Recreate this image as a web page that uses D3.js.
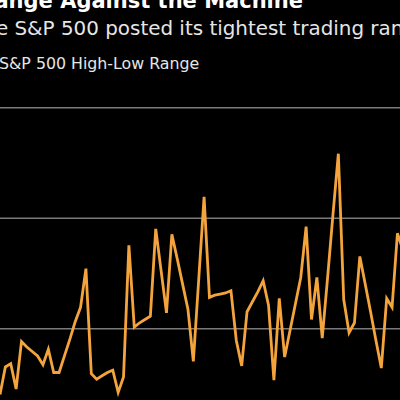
<!DOCTYPE html>
<html>
<head>
<meta charset="utf-8">
<script src="https://cdn.jsdelivr.net/npm/d3@7"></script>
<style>
  html, body { margin: 0; padding: 0; background: #000; overflow: hidden; }
  svg { display: block; }
</style>
</head>
<body>
<svg id="chart" width="400" height="400"></svg>
<script>
// ---- data ----
const titleText = "Range Against the Machine";
const subtitleText = "The S&P 500 posted its tightest trading range";
const legendLabel = "S&P 500 High-Low Range";
const gridValues = [1, 2, 3];
const rangeValues = [
  0.40, 0.65, 0.68, 0.45, 0.88, 0.83, 0.79, 0.75, 0.67, 0.81,
  0.60, 0.60, 0.75, 0.90, 1.06, 1.19, 1.54, 0.59, 0.54, 0.57,
  0.60, 0.62, 0.42, 0.56, 1.75, 1.01, 1.05, 1.08, 1.11, 1.90,
  1.52, 1.14, 1.85, 1.63, 1.40, 1.17, 0.70, 1.44, 2.19, 1.28,
  1.30, 1.31, 1.32, 1.34, 0.89, 0.66, 1.15, 1.24, 1.33, 1.43,
  1.21, 0.53, 1.27, 0.74, 0.98, 1.22, 1.46, 1.92, 1.08, 1.46,
  0.91, 1.46, 2.03, 2.58, 1.26, 0.96, 1.05, 1.65, 1.40, 1.15,
  0.89, 0.64, 1.27, 1.19, 1.86, 1.71
];

// ---- layout ----
const svg = d3.select("#chart");
svg.append("rect").attr("width", 400).attr("height", 400).attr("fill", "#000");

const x = d3.scaleLinear().domain([0, rangeValues.length - 1]).range([0, 402.8]);
const y = d3.scaleLinear().domain([0, 3]).range([438.8, 107.3]);

// gridlines via axis
const gridAxis = d3.axisRight(y).tickValues(gridValues).tickSize(400).tickFormat("");
const g = svg.append("g").call(gridAxis);
g.select(".domain").remove();
g.selectAll(".tick line").attr("stroke", "#7a7a7a").attr("stroke-width", 1.5);

// line
const line = d3.line().x((d, i) => x(i)).y(d => y(d));
svg.append("path")
  .datum(rangeValues)
  .attr("fill", "none")
  .attr("stroke", "#f4a43c")
  .attr("stroke-width", 2.8)
  .attr("stroke-linejoin", "miter")
  .attr("d", line);

// title
const title = svg.append("text")
  .attr("y", 7.5)
  .attr("fill", "#ffffff")
  .attr("font-family", "DejaVu Sans")
  .attr("font-weight", "bold")
  .attr("font-size", 21)
  .text(titleText);
const tw = title.node().getComputedTextLength();
title.attr("x", 303 - tw);

// subtitle: "S" of S&P starts around x=15
const subSize = 19.9;
const sub = svg.append("text")
  .attr("y", 35)
  .attr("fill", "#e6e6e6")
  .attr("font-family", "DejaVu Sans")
  .attr("font-size", subSize)
  .text(subtitleText);
const tmp = svg.append("text")
  .attr("font-family", "DejaVu Sans")
  .attr("font-size", subSize)
  .text("The\u00a0");
const prefixW = tmp.node().getComputedTextLength();
tmp.remove();
sub.attr("x", 14.5 - prefixW);

// legend label
svg.append("text")
  .attr("x", -1)
  .attr("y", 69)
  .attr("fill", "#e6e6e6")
  .attr("font-family", "DejaVu Sans")
  .attr("font-size", 15.8)
  .text(legendLabel);
</script>
</body>
</html>
